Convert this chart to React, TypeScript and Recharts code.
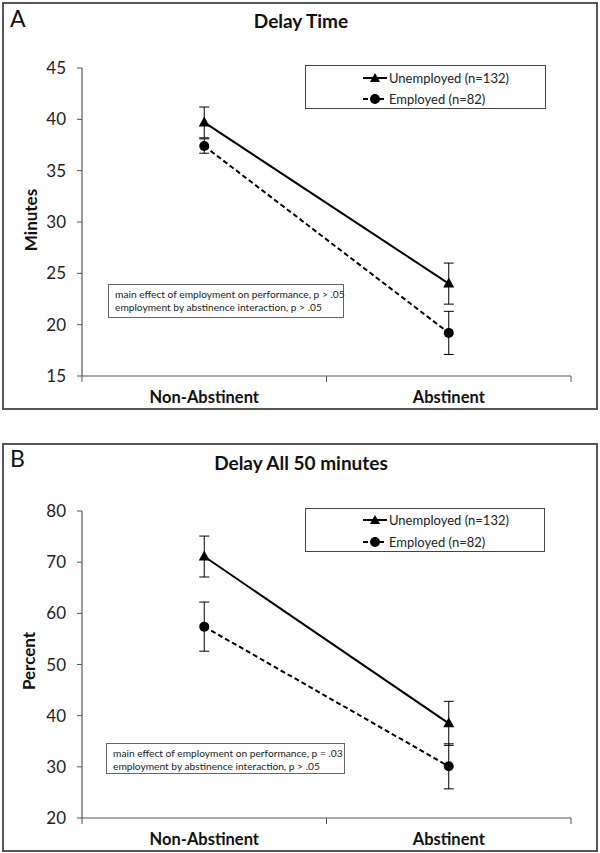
import { LineChart, Line, XAxis, YAxis, ErrorBar } from 'recharts';

// two groups on a numeric x scale so the axis ticks can sit between categories (Excel style)
const groups = ['Non-Abstinent', 'Abstinent'];
const groupPos = [0.5, 1.5];
const xTicks = [0, 0.5, 1, 1.5, 2];

const seriesNames = ['Unemployed (n=132)', 'Employed (n=82)'];

// Panel A - Delay Time (minutes)
const delayUnemployed = [39.7, 24.0];
const delayUnemployedErr = [1.5, 2.0];
const delayEmployed = [37.4, 19.2];
const delayEmployedErr = [0.7, 2.1];
const delayTicks = [15, 20, 25, 30, 35, 40, 45];

// Panel B - Delay All 50 minutes (percent)
const allUnemployed = [71.1, 38.5];
const allUnemployedErr = [4.0, 4.3];
const allEmployed = [57.4, 30.1];
const allEmployedErr = [4.8, 4.4];
const allTicks = [20, 30, 40, 50, 60, 70, 80];

const FONT = 'Lato, "Open Sans", sans-serif';
const INK = '#111';

const buildRows = (u: number[], uErr: number[], e: number[], eErr: number[]) =>
  groups.map((g, i) => ({
    name: g,
    x: groupPos[i],
    unemployed: u[i],
    uErr: uErr[i],
    employed: e[i],
    eErr: eErr[i],
  }));

const Triangle = (props: any) => {
  const { cx, cy, index } = props;
  if (cx == null || cy == null) return null;
  return (
    <path
      key={`tri-${index}`}
      d={`M${cx},${cy - 6} L${cx + 5.5},${cy + 4} L${cx - 5.5},${cy + 4} Z`}
      fill="#000"
    />
  );
};

const XTick = (props: any) => {
  const { x, y, payload } = props;
  const v = payload.value;
  const axisY = y - 6;
  if (Number.isInteger(v)) {
    return <line x1={x} x2={x} y1={axisY} y2={axisY + 6} stroke="#555" strokeWidth={1} />;
  }
  const idx = groupPos.indexOf(v);
  return (
    <text x={x} y={axisY + 21} textAnchor="middle" dominantBaseline="central" fontSize={16.5} fontWeight={700} fill={INK}>
      {groups[idx]}
    </text>
  );
};

interface PanelProps {
  rows: any[];
  ticks: number[];
  chartTop: number;
  chartHeight: number;
  plotTop: number;
  xAxisHeight: number;
}

const PanelChart = ({ rows, ticks, chartTop, chartHeight, plotTop, xAxisHeight }: PanelProps) => (
  <div style={{ position: 'absolute', left: 0, top: chartTop, width: 600, height: chartHeight }}>
    <LineChart width={600} height={chartHeight} data={rows} margin={{ top: plotTop, right: 29, left: 0, bottom: 0 }}>
      <XAxis
        dataKey="x"
        type="number"
        domain={[0, 2]}
        ticks={xTicks}
        interval={0}
        height={xAxisHeight}
        tickSize={6}
        tickMargin={0}
        tickLine={false}
        axisLine={{ stroke: '#555', strokeWidth: 1.2 }}
        tick={<XTick />}
      />
      <YAxis
        type="number"
        domain={[ticks[0], ticks[ticks.length - 1]]}
        ticks={ticks}
        interval={0}
        width={82}
        tickSize={5}
        tickMargin={11}
        axisLine={{ stroke: '#555', strokeWidth: 1.2 }}
        tickLine={{ stroke: '#555' }}
        tick={{ fontSize: 17, fill: '#222' }}
      />
      <Line
        dataKey="employed"
        stroke="#000"
        strokeWidth={2}
        strokeDasharray="5 3"
        dot={{ r: 5, fill: '#000', stroke: '#000', strokeWidth: 0 }}
        isAnimationActive={false}
      >
        <ErrorBar dataKey="eErr" direction="y" width={5} stroke="#000" strokeWidth={1} />
      </Line>
      <Line
        dataKey="unemployed"
        stroke="#000"
        strokeWidth={2}
        dot={<Triangle />}
        isAnimationActive={false}
      >
        <ErrorBar dataKey="uErr" direction="y" width={5} stroke="#000" strokeWidth={1} />
      </Line>
    </LineChart>
  </div>
);

const LegendBox = ({ left, top, width, height, rowA, rowB }: any) => (
  <div
    style={{
      position: 'absolute', left, top, width, height, boxSizing: 'border-box',
      border: '1.5px solid #444', background: '#fff', fontSize: 13, color: '#222',
    }}
  >
    {[rowA, rowB].map((ry: number, i: number) => (
      <div key={i} style={{ position: 'absolute', left: 56, top: ry - 8, height: 16, display: 'flex', alignItems: 'center' }}>
        <svg width={26} height={16}>
          <line x1={1} x2={25} y1={8} y2={8} stroke="#000" strokeWidth={2} strokeDasharray={i === 1 ? '5 3' : undefined} />
          {i === 0 ? <path d="M13,3 L18,12 L8,12 Z" fill="#000" /> : <circle cx={13} cy={8} r={5} fill="#000" />}
        </svg>
        <span style={{ marginLeft: 1 }}>{seriesNames[i]}</span>
      </div>
    ))}
  </div>
);

const NoteBox = ({ left, top, width, height, lines }: any) => (
  <div
    style={{
      position: 'absolute', left, top, width, height, boxSizing: 'border-box',
      border: '1px solid #666', background: '#fff', fontSize: 10.2, lineHeight: '12.5px',
      color: '#222', padding: '3px 0 0 6px', whiteSpace: 'nowrap',
    }}
  >
    {lines.map((l: string, i: number) => <div key={i}>{l}</div>)}
  </div>
);

const Title = ({ text, y }: any) => (
  <div style={{ position: 'absolute', left: 0, top: y - 12, width: 602, textAlign: 'center', fontSize: 19, lineHeight: '24px', fontWeight: 700, color: INK }}>
    {text}
  </div>
);

const Letter = ({ text, y }: any) => (
  <div style={{ position: 'absolute', left: 10, top: y - 13, fontSize: 23, lineHeight: '26px', color: INK }}>{text}</div>
);

const YLabel = ({ text, x, y }: any) => (
  <div
    style={{
      position: 'absolute', left: x - 50, top: y - 10, width: 100, height: 20, lineHeight: '20px',
      textAlign: 'center', fontSize: 17, fontWeight: 700, color: INK, transform: 'rotate(-90deg)',
    }}
  >
    {text}
  </div>
);

export default function App() {
  const rowsA = buildRows(delayUnemployed, delayUnemployedErr, delayEmployed, delayEmployedErr);
  const rowsB = buildRows(allUnemployed, allUnemployedErr, allEmployed, allEmployedErr);

  return (
    <div style={{ position: 'absolute', left: 0, top: 0, width: 600, height: 853, background: '#fff', fontFamily: FONT }}>
      {/* Panel A */}
      <div style={{ position: 'absolute', left: 2, top: 2, width: 596, height: 408, boxSizing: 'border-box', border: '2px solid #555' }} />
      <PanelChart rows={rowsA} ticks={delayTicks} chartTop={0} chartHeight={410} plotTop={68} xAxisHeight={34} />
      <Title text="Delay Time" y={21} />
      <Letter text="A" y={18} />
      <YLabel text="Minutes" x={31} y={220} />
      <LegendBox left={305} top={65} width={241} height={44} rowA={12} rowB={33} />
      <NoteBox
        left={108}
        top={284}
        width={236}
        height={34}
        lines={['main effect of employment on performance, p > .05', 'employment by abstinence interaction, p > .05']}
      />

      {/* Panel B */}
      <div style={{ position: 'absolute', left: 2, top: 443, width: 596, height: 409, boxSizing: 'border-box', border: '2px solid #555' }} />
      <PanelChart rows={rowsB} ticks={allTicks} chartTop={430} chartHeight={423} plotTop={81} xAxisHeight={35} />
      <Title text="Delay All 50 minutes" y={463} />
      <Letter text="B" y={458} />
      <YLabel text="Percent" x={29} y={661} />
      <LegendBox left={305} top={508} width={240} height={44} rowA={11} rowB={33} />
      <NoteBox
        left={106}
        top={743}
        width={239}
        height={31}
        lines={['main effect of employment on performance, p = .03', 'employment by abstinence interaction, p > .05']}
      />
    </div>
  );
}
